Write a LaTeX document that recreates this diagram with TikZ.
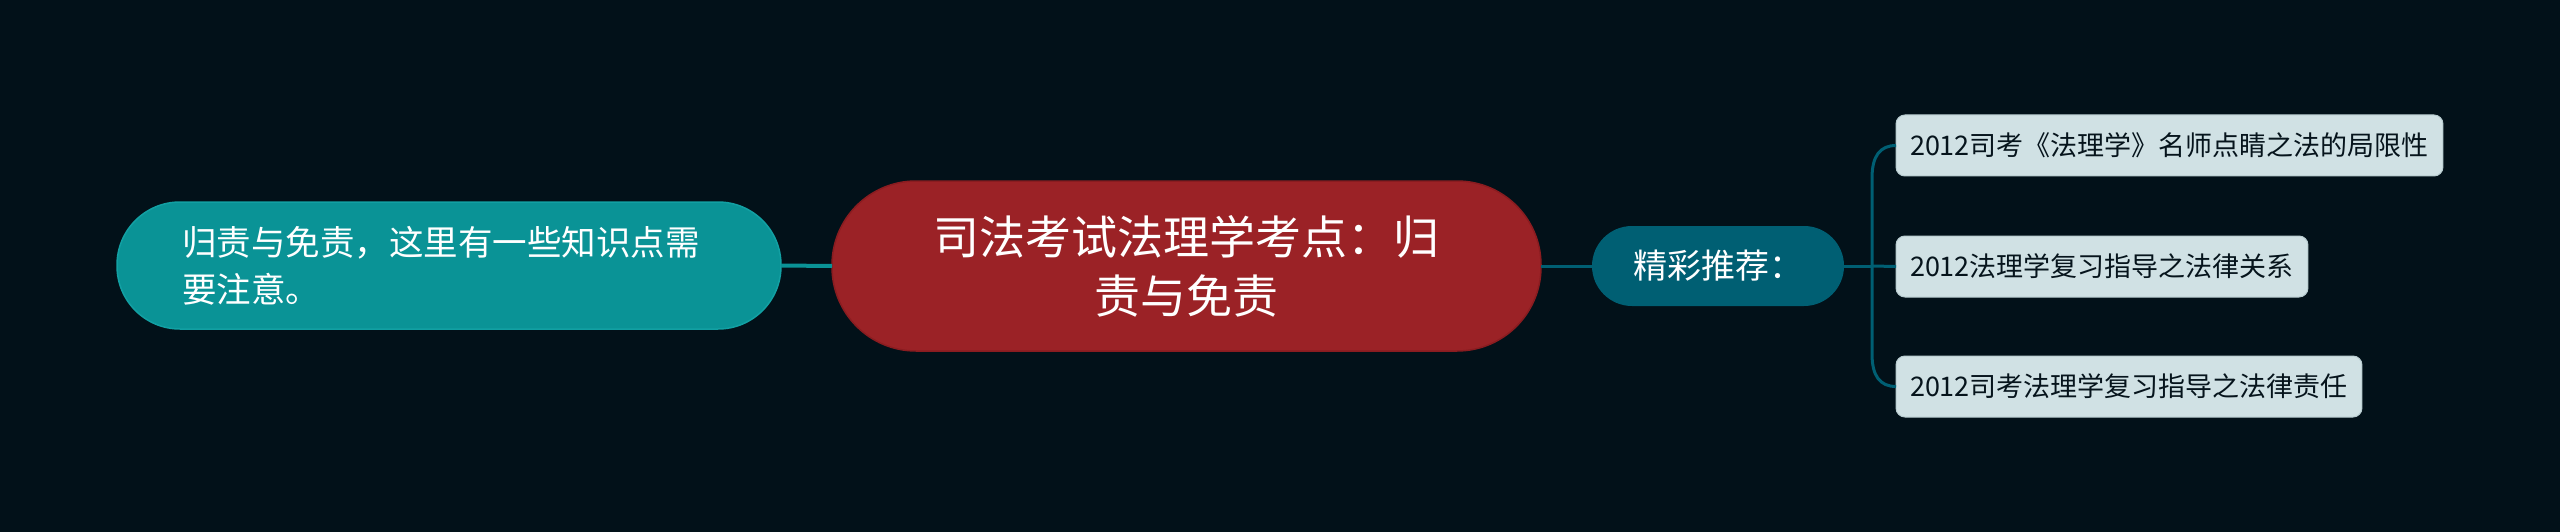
\documentclass[tikz,border=0pt]{standalone}
\usepackage{fontspec}
\setmainfont{Noto Sans CJK SC}
\definecolor{bgc}{HTML}{021119}
\definecolor{tealc}{HTML}{0A9396}
\definecolor{tealb}{HTML}{12A0A3}
\definecolor{redc}{HTML}{9B2226}
\definecolor{redb}{HTML}{8A1C20}
\definecolor{darkteal}{HTML}{005F73}
\definecolor{leafc}{HTML}{D0E1E4}
\definecolor{leafb}{HTML}{B8CCD0}
\definecolor{leaftext}{HTML}{06141C}
\begin{document}
\begin{tikzpicture}[x=1pt,y=-1pt,
  every node/.style={inner sep=0pt, outer sep=0pt},
  rootbox/.style={fill=redc, draw=redb, line width=1.5pt, rounded corners=84pt,
    minimum width=709pt, minimum height=170pt, align=center, text=white,
    font=\fontsize{46}{59}\selectfont},
  subbox/.style={fill=tealc, draw=tealb, line width=1.5pt, rounded corners=63pt,
    minimum height=127pt, inner xsep=65pt, text width=534pt, align=left, text=white,
    font=\fontsize{34.5}{47}\selectfont},
  recbox/.style={fill=darkteal, rounded corners=40pt, minimum width=252pt,
    minimum height=80pt, align=center, text=white,
    font=\fontsize{34}{40}\selectfont},
  leafbox/.style={fill=leafc, draw=leafb, line width=1pt, rounded corners=9pt,
    minimum height=61pt, inner xsep=14pt, anchor=west, text=leaftext,
    font=\fontsize{27}{32}\selectfont},
  connL/.style={draw=tealc, line width=4pt},
  connR/.style={draw=darkteal, line width=3pt}]
\fill[bgc] (0,0) rectangle (2560,532);
\useasboundingbox (0,0) rectangle (2560,532);

\node[rootbox] (root) at (1186.5,266) {司法考试法理学考点：归\\责与免责};
\node[subbox] (left) at (449,265.5) {归责与免责，这里有一些知识点需\\要注意。};
\node[recbox] (rec) at (1718,266) {精彩推荐：};
\node[leafbox] (l1) at (1896,145.5) {2012司考《法理学》名师点睛之法的局限性};
\node[leafbox] (l2) at (1896,266.5) {2012法理学复习指导之法律关系};
\node[leafbox] (l3) at (1896,386.5) {2012司考法理学复习指导之法律责任};

\coordinate (br) at (1872,266);

\draw[connL] (left.east) -- (root.west);
\draw[connR] (root.east) -- (rec.west);
\draw[connR] (rec.east) -- (br);
\draw[connR] (br) -- (l2.west);
\draw[connR] (br) -- (1872,178) .. controls (1872,156) and (1880,145.5) .. (l1.west);
\draw[connR] (br) -- (1872,354) .. controls (1872,376) and (1880,386.5) .. (l3.west);
\end{tikzpicture}
\end{document}
